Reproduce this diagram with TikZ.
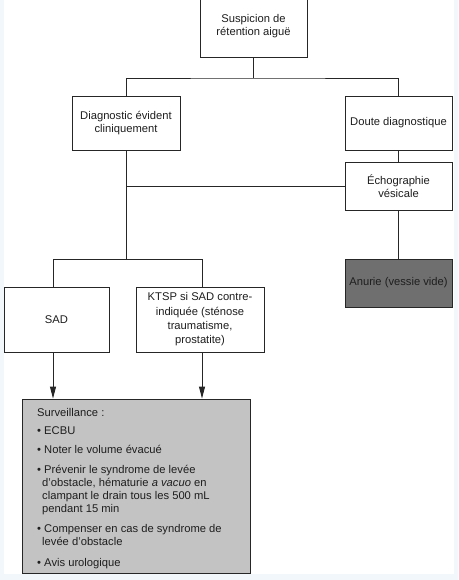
\documentclass[tikz,border=0pt]{standalone}
\usepackage{fontspec}
\setmainfont{Liberation Sans}
\usetikzlibrary{arrows.meta}
\definecolor{margincol}{HTML}{F2F7FC}
\definecolor{linecol}{HTML}{262626}
\definecolor{textcol}{HTML}{1E1E1E}
\definecolor{darkfill}{HTML}{6F6F6F}
\definecolor{lightfill}{HTML}{C3C3C3}
\begin{document}
\begin{tikzpicture}[x=1pt,y=-1pt,
  box/.style={draw=linecol,line width=0.9pt,fill=white,inner sep=0pt,align=center,
    text=textcol,font=\fontsize{11.2}{13.6}\selectfont},
  conn/.style={draw=linecol,line width=0.9pt},
  arr/.style={conn,-{Triangle[length=12pt,width=6pt]}}]
\useasboundingbox (0,0) rectangle (458,580);
\fill[margincol] (0,0) rectangle (458,580);
\fill[white] (4,-1) rectangle (454,574);
% boxes
\node[box,minimum width=107pt,minimum height=62pt] (susp) at (253.5,26) {Suspicion de\\rétention aiguë};
\node[box,minimum width=108pt,minimum height=54pt] (diag) at (126,123) {Diagnostic évident\\cliniquement};
\node[box,minimum width=107pt,minimum height=54pt] (doute) at (398.5,123) {Doute diagnostique};
\node[box,minimum width=107pt,minimum height=48pt] (echo) at (398.5,186) {Échographie\\vésicale};
\node[box,fill=darkfill,minimum width=107pt,minimum height=48pt] (anurie) at (398.5,283) {Anurie (vessie vide)};
\node[box,minimum width=105pt,minimum height=65pt] (sad) at (56.5,319.5) {SAD};
\node[box,minimum width=128pt,minimum height=65pt,font=\fontsize{11.2}{14.3}\selectfont] (ktsp) at (200,319.5) {KTSP si SAD contre-\\indiquée (sténose\\traumatisme,\\prostatite)};
\node[box,fill=lightfill,minimum width=228pt,minimum height=174pt] (surv) at (136,486) {};
\node[anchor=north west,inner sep=0pt,align=left,text=textcol,
  font=\fontsize{11.2}{13}\selectfont] (survtext) at (37,408.6)
  {Surveillance :\\[5pt]
   \textbullet\ ECBU\\[6pt]
   \textbullet\ Noter le volume évacué\\[6.5pt]
   \textbullet\ Prévenir le syndrome de levée\\
   \hspace*{5pt}d’obstacle, hématurie \textit{a vacuo} en\\
   \hspace*{5pt}clampant le drain tous les 500 mL\\
   \hspace*{5pt}pendant 15 min\\[7pt]
   \textbullet\ Compenser en cas de syndrome de\\
   \hspace*{5pt}levée d’obstacle\\[8pt]
   \textbullet\ Avis urologique};
% junctions
\coordinate (t) at (253.5,78);
\coordinate (b) at (126,259);
\coordinate (sl) at (53,259);
\coordinate (sr) at (202,259);
% connectors
\draw[conn] (susp.south) -- (t);
\draw[conn] (diag.north) |- (t) -| (doute.north);
\draw[conn] (doute.south) -- (echo.north);
\draw[conn] (diag.south) -- (b);
\draw[conn] (echo.west) -- (echo.west -| diag.south);
\draw[conn] (echo.south) -- (anurie.north);
\draw[conn] (sad.north -| sl) |- (sr) -- (ktsp.north -| sr);
\draw[arr] (sad.south -| sl) -- (surv.north -| sl);
\draw[arr] (ktsp.south -| sr) -- (surv.north -| sr);
\end{tikzpicture}
\end{document}
